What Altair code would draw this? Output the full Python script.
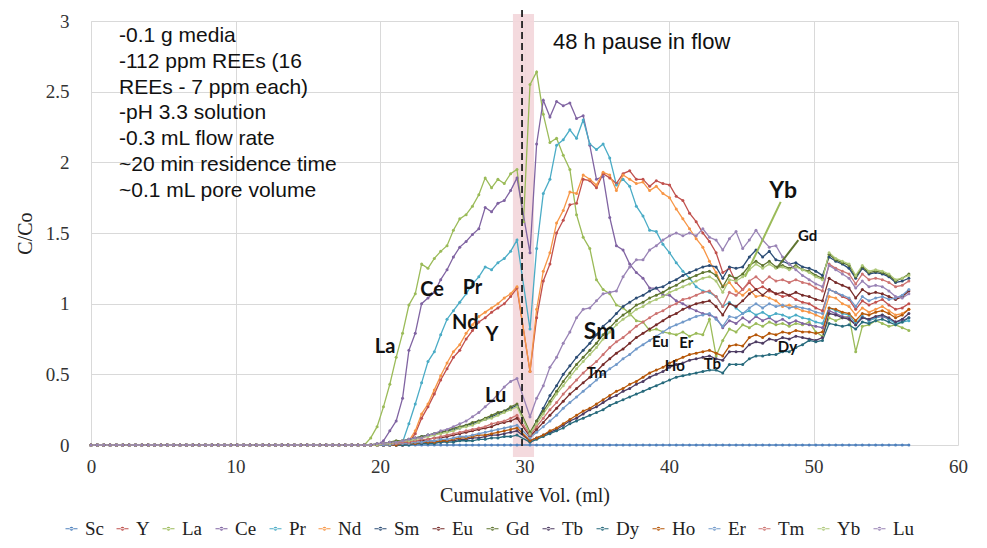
import altair as alt
import pandas as pd

NAMES = ["Sc", "Y", "La", "Ce", "Pr", "Nd", "Sm", "Eu", "Gd", "Tb", "Dy", "Ho", "Er", "Tm", "Yb", "Lu"]
COLORS = ["#4F81BD", "#C0504D", "#9BBB59", "#8064A2", "#4BACC6", "#F79646", "#2C4D75", "#772C2A",
          "#5F7530", "#4D3B62", "#276A7C", "#B65708", "#729ACA", "#CD7371", "#AFC97A", "#9983B5"]

# cumulative volume (ml) before the 48 h pause
X_PRE = [0.0, 0.44, 0.88, 1.32, 1.76, 2.2, 2.64, 3.08, 3.52, 3.96,
         4.4, 4.84, 5.28, 5.72, 6.16, 6.6, 7.04, 7.48, 7.92, 8.36,
         8.8, 9.24, 9.68, 10.12, 10.56, 11.0, 11.44, 11.88, 12.32, 12.76,
         13.2, 13.64, 14.08, 14.52, 14.96, 15.4, 15.84, 16.28, 16.72, 17.16,
         17.6, 18.04, 18.48, 18.92, 19.36, 19.8, 20.24, 20.68, 21.12, 21.56,
         22.0, 22.44, 22.88, 23.32, 23.76, 24.2, 24.64, 25.08, 25.52, 25.96,
         26.4, 26.84, 27.28, 27.72, 28.16, 28.6, 29.04, 29.48]
# cumulative volume (ml) after the pause
X_POST = [30.38, 30.84, 31.3, 31.76, 32.22, 32.68, 33.14, 33.6, 34.06, 34.52,
          34.98, 35.44, 35.9, 36.36, 36.82, 37.28, 37.74, 38.2, 38.66, 39.12,
          39.58, 40.04, 40.5, 40.96, 41.42, 41.88, 42.34, 42.8, 43.26, 43.72,
          44.18, 44.64, 45.1, 45.56, 46.02, 46.48, 46.94, 47.4, 47.86, 48.32,
          48.78, 49.24, 49.7, 50.16, 50.62, 51.08, 51.54, 52.0, 52.46, 52.92,
          53.38, 53.84, 54.3, 54.76, 55.22, 55.68, 56.14, 56.6]

# C/Co before the pause: last readings (earlier readings are 0)
PRE = {
    "Sc": [],
    "La": [0, 0.05, 0.13, 0.27, 0.43, 0.62, 0.79, 0.99, 1.07, 1.28, 1.25, 1.32, 1.37, 1.41, 1.52, 1.60,
           1.63, 1.69, 1.77, 1.89, 1.82, 1.88, 1.85, 1.92, 1.95],
    "Ce": [0, 0.03, 0.10, 0.17, 0.33, 0.67, 0.79, 1.00, 1.04, 1.08, 1.17, 1.24, 1.33, 1.40, 1.44, 1.49,
           1.53, 1.68, 1.65, 1.71, 1.73, 1.80, 1.89],
    "Pr": [0, 0.02, 0.15, 0.29, 0.44, 0.59, 0.66, 0.78, 0.89, 0.95, 1.01, 1.07, 1.14, 1.19, 1.26, 1.24,
           1.29, 1.32, 1.37, 1.45],
    "Nd": [0, 0.03, 0.10, 0.22, 0.29, 0.39, 0.49, 0.58, 0.66, 0.71, 0.79, 0.85, 0.91, 0.94, 0.97, 1.00,
           1.04, 1.07, 1.12],
    "Y": [0, 0.02, 0.08, 0.19, 0.27, 0.36, 0.46, 0.54, 0.62, 0.67, 0.75, 0.81, 0.87, 0.90, 0.94, 0.97,
          1.00, 1.05, 1.11],
    "Lu": [0.0, 0.01, 0.01, 0.02, 0.02, 0.03, 0.04, 0.05, 0.05, 0.07, 0.08, 0.10, 0.11, 0.13, 0.15, 0.17,
           0.20, 0.23, 0.27, 0.31, 0.36, 0.41, 0.45, 0.47],
    "Gd": [0.0, 0.01, 0.01, 0.02, 0.03, 0.03, 0.04, 0.05, 0.06, 0.07, 0.08, 0.09, 0.10, 0.12, 0.13, 0.14,
           0.16, 0.17, 0.19, 0.21, 0.23, 0.24, 0.27, 0.29],
    "Sm": [0.0, 0.0, 0.01, 0.02, 0.02, 0.03, 0.04, 0.05, 0.06, 0.07, 0.08, 0.09, 0.10, 0.11, 0.12, 0.14,
           0.15, 0.17, 0.18, 0.20, 0.22, 0.24, 0.26, 0.28],
    "Yb": [0.0, 0.0, 0.01, 0.01, 0.02, 0.03, 0.03, 0.04, 0.05, 0.06, 0.07, 0.08, 0.09, 0.10, 0.12, 0.13,
           0.14, 0.16, 0.18, 0.19, 0.21, 0.23, 0.25, 0.27],
    "Tm": [0, 0, 0.01, 0.01, 0.01, 0.02, 0.02, 0.03, 0.04, 0.04, 0.05, 0.06, 0.07, 0.08, 0.09, 0.10,
           0.11, 0.12, 0.13, 0.15, 0.16, 0.17, 0.19, 0.21],
    "Eu": [0, 0, 0, 0.01, 0.01, 0.02, 0.02, 0.03, 0.03, 0.04, 0.05, 0.05, 0.06, 0.07, 0.08, 0.09,
           0.10, 0.11, 0.12, 0.13, 0.15, 0.16, 0.17, 0.19],
    "Er": [0, 0, 0, 0, 0.01, 0.01, 0.01, 0.02, 0.02, 0.03, 0.03, 0.04, 0.04, 0.05, 0.06, 0.06,
           0.07, 0.08, 0.09, 0.10, 0.11, 0.12, 0.13, 0.14],
    "Ho": [0, 0, 0, 0, 0, 0.01, 0.01, 0.01, 0.02, 0.02, 0.02, 0.03, 0.03, 0.04, 0.05, 0.05,
           0.06, 0.07, 0.07, 0.08, 0.09, 0.10, 0.11, 0.12],
    "Tb": [0, 0, 0, 0, 0, 0, 0.01, 0.01, 0.01, 0.02, 0.02, 0.02, 0.03, 0.03, 0.04, 0.04,
           0.05, 0.05, 0.06, 0.07, 0.07, 0.08, 0.09, 0.10],
    "Dy": [0, 0, 0, 0, 0, 0, 0, 0.01, 0.01, 0.01, 0.01, 0.02, 0.02, 0.02, 0.03, 0.03,
           0.03, 0.04, 0.04, 0.05, 0.05, 0.06, 0.06, 0.07],
}

# La has one extra reading taken right at the pause: [volume, C/Co]
LA_PAUSE = [29.93, 1.58]

# C/Co after the pause
POST = {
    "Sc": [0.0] * 58,
    "La": [2.55, 2.64, 2.34, 2.14, 2.17, 2.05, 1.95, 1.63, 1.47, 1.39, 1.17, 1.10, 1.07, 0.99, 0.97, 0.93,
           0.88, 0.87, 0.81, 0.82, 0.80, 0.79, 0.78, 0.80, 0.77, 0.79, 0.78, 0.89, 0.63, 0.74, 0.82, 0.80,
           0.85, 0.83, 0.86, 0.84, 0.87, 0.85, 0.86, 0.84, 0.86, 0.85, 0.87, 0.80, 0.77, 0.90, 0.88, 0.90,
           0.91, 0.66, 0.84, 0.85, 0.88, 0.86, 0.84, 0.85, 0.83, 0.81],
    "Ce": [1.36, 2.13, 2.44, 2.32, 2.43, 2.40, 2.42, 2.31, 2.33, 2.12, 1.88, 1.90, 1.61, 1.41, 1.38, 1.28,
           1.22, 1.18, 1.11, 1.11, 1.06, 1.06, 1.02, 1.00, 0.97, 0.95, 0.93, 0.92, 0.90, 0.83, 0.88, 0.86,
           0.90, 0.87, 0.91, 0.88, 0.90, 0.87, 0.89, 0.86, 0.88, 0.86, 0.85, 0.84, 0.83, 0.95, 0.93, 0.91,
           0.90, 0.85, 0.91, 0.88, 0.90, 0.91, 0.89, 0.87, 0.88, 0.90],
    "Pr": [0.82, 1.39, 1.78, 1.88, 2.12, 2.16, 2.23, 2.17, 2.30, 2.13, 2.09, 2.13, 2.03, 1.84, 1.88, 1.83,
           1.69, 1.62, 1.52, 1.51, 1.42, 1.36, 1.29, 1.23, 1.18, 1.12, 1.09, 1.08, 1.05, 0.98, 1.01, 0.97,
           0.93, 0.95, 0.92, 0.94, 0.91, 0.93, 0.92, 0.90, 0.92, 0.90, 0.89, 0.87, 0.86, 0.97, 0.95, 0.93,
           0.92, 0.86, 0.91, 0.88, 0.90, 0.92, 0.89, 0.86, 0.87, 0.88],
    "Nd": [0.52, 0.96, 1.23, 1.36, 1.57, 1.66, 1.79, 1.78, 1.91, 1.88, 1.84, 1.93, 1.91, 1.80, 1.91, 1.88,
           1.85, 1.86, 1.80, 1.83, 1.78, 1.75, 1.67, 1.60, 1.53, 1.46, 1.40, 1.30, 1.22, 1.12, 1.15, 1.09,
           1.06, 1.10, 1.05, 1.06, 1.04, 1.02, 0.98, 0.99, 0.97, 0.95, 0.94, 0.92, 0.90, 1.05, 1.04, 1.00,
           0.98, 0.92, 0.97, 0.94, 0.96, 0.98, 0.95, 0.92, 0.93, 0.96],
    "Y": [0.52, 0.90, 1.16, 1.28, 1.50, 1.59, 1.70, 1.71, 1.88, 1.87, 1.82, 1.92, 1.89, 1.85, 1.92, 1.94,
          1.88, 1.88, 1.83, 1.87, 1.85, 1.84, 1.76, 1.73, 1.64, 1.58, 1.50, 1.44, 1.36, 1.22, 1.25, 1.15,
          1.10, 1.15, 1.10, 1.12, 1.09, 1.07, 1.05, 1.06, 1.03, 1.01, 1.00, 0.97, 0.95, 1.10, 1.08, 1.05,
          1.03, 0.96, 1.02, 0.99, 1.01, 1.03, 0.99, 0.96, 0.97, 1.00],
    "Sm": [0.08, 0.17, 0.26, 0.35, 0.42, 0.50, 0.56, 0.62, 0.67, 0.72, 0.78, 0.84, 0.88, 0.93, 0.98, 1.01,
           1.04, 1.06, 1.09, 1.11, 1.12, 1.15, 1.17, 1.20, 1.22, 1.24, 1.26, 1.27, 1.26, 1.18, 1.26, 1.25,
           1.26, 1.33, 1.38, 1.33, 1.37, 1.31, 1.30, 1.28, 1.29, 1.26, 1.25, 1.23, 1.20, 1.33, 1.30, 1.28,
           1.25, 1.18, 1.25, 1.21, 1.22, 1.21, 1.19, 1.15, 1.16, 1.18],
    "Gd": [0.09, 0.17, 0.24, 0.31, 0.38, 0.45, 0.51, 0.57, 0.62, 0.67, 0.72, 0.78, 0.83, 0.88, 0.92, 0.95,
           0.99, 1.01, 1.04, 1.06, 1.08, 1.11, 1.13, 1.16, 1.18, 1.20, 1.22, 1.23, 1.20, 1.12, 1.20, 1.18,
           1.21, 1.27, 1.30, 1.27, 1.30, 1.26, 1.27, 1.25, 1.27, 1.24, 1.23, 1.20, 1.18, 1.35, 1.31, 1.29,
           1.27, 1.19, 1.26, 1.22, 1.23, 1.22, 1.20, 1.16, 1.18, 1.21],
    "Yb": [0.08, 0.15, 0.22, 0.29, 0.36, 0.42, 0.48, 0.54, 0.59, 0.64, 0.69, 0.75, 0.80, 0.85, 0.89, 0.92,
           0.96, 0.98, 1.01, 1.03, 1.05, 1.08, 1.10, 1.12, 1.14, 1.16, 1.18, 1.19, 1.16, 1.08, 1.17, 1.16,
           1.19, 1.24, 1.28, 1.25, 1.28, 1.25, 1.26, 1.24, 1.26, 1.24, 1.22, 1.19, 1.17, 1.36, 1.32, 1.30,
           1.28, 1.20, 1.27, 1.23, 1.24, 1.23, 1.21, 1.17, 1.18, 1.20],
    "Tm": [0.07, 0.13, 0.19, 0.25, 0.30, 0.36, 0.41, 0.46, 0.51, 0.55, 0.59, 0.64, 0.69, 0.73, 0.76, 0.80,
           0.84, 0.87, 0.90, 0.93, 0.95, 0.98, 1.00, 1.03, 1.04, 1.06, 1.08, 1.09, 1.05, 0.98, 1.08, 1.06,
           1.10, 1.16, 1.19, 1.15, 1.19, 1.16, 1.17, 1.15, 1.17, 1.15, 1.14, 1.11, 1.09, 1.28, 1.25, 1.23,
           1.21, 1.14, 1.21, 1.17, 1.18, 1.17, 1.15, 1.12, 1.13, 1.16],
    "Eu": [0.06, 0.11, 0.16, 0.21, 0.26, 0.31, 0.36, 0.40, 0.44, 0.48, 0.52, 0.57, 0.61, 0.65, 0.68, 0.72,
           0.76, 0.79, 0.82, 0.85, 0.88, 0.91, 0.93, 0.96, 0.98, 1.00, 1.01, 1.02, 0.98, 0.92, 1.00, 0.98,
           1.02, 1.07, 1.10, 1.06, 1.10, 1.07, 1.08, 1.06, 1.08, 1.06, 1.05, 1.03, 1.02, 1.18, 1.15, 1.13,
           1.11, 1.04, 1.10, 1.07, 1.08, 1.07, 1.05, 1.03, 1.05, 1.09],
    "Er": [0.05, 0.09, 0.13, 0.17, 0.21, 0.26, 0.30, 0.34, 0.38, 0.42, 0.46, 0.50, 0.54, 0.57, 0.61, 0.64,
           0.68, 0.71, 0.74, 0.77, 0.80, 0.83, 0.85, 0.87, 0.89, 0.91, 0.92, 0.93, 0.89, 0.84, 0.91, 0.90,
           0.93, 0.97, 1.00, 0.97, 1.00, 0.98, 0.99, 0.97, 0.98, 0.97, 0.96, 0.94, 0.93, 1.10, 1.08, 1.06,
           1.04, 0.98, 1.05, 1.02, 1.04, 1.05, 1.03, 1.04, 1.06, 1.10],
    "Ho": [0.03, 0.05, 0.07, 0.10, 0.12, 0.15, 0.18, 0.21, 0.24, 0.26, 0.29, 0.32, 0.35, 0.38, 0.40, 0.43,
           0.45, 0.48, 0.51, 0.53, 0.55, 0.58, 0.60, 0.62, 0.64, 0.65, 0.66, 0.67, 0.65, 0.63, 0.70, 0.71,
           0.70, 0.76, 0.78, 0.76, 0.79, 0.78, 0.80, 0.79, 0.81, 0.80, 0.80, 0.79, 0.80, 0.97, 0.96, 0.94,
           0.93, 0.88, 0.93, 0.92, 0.94, 0.95, 0.93, 0.90, 0.92, 0.96],
    "Tb": [0.03, 0.05, 0.07, 0.09, 0.11, 0.14, 0.17, 0.19, 0.22, 0.25, 0.27, 0.30, 0.33, 0.35, 0.38, 0.40,
           0.43, 0.45, 0.48, 0.50, 0.52, 0.55, 0.57, 0.58, 0.60, 0.61, 0.62, 0.63, 0.61, 0.60, 0.66, 0.66,
           0.66, 0.71, 0.73, 0.72, 0.75, 0.74, 0.76, 0.75, 0.77, 0.76, 0.75, 0.74, 0.76, 0.93, 0.92, 0.90,
           0.89, 0.85, 0.90, 0.89, 0.91, 0.92, 0.90, 0.87, 0.89, 0.93],
    "Dy": [0.02, 0.04, 0.06, 0.08, 0.10, 0.12, 0.15, 0.17, 0.19, 0.21, 0.23, 0.25, 0.28, 0.30, 0.32, 0.34,
           0.36, 0.38, 0.40, 0.42, 0.44, 0.46, 0.48, 0.49, 0.50, 0.51, 0.52, 0.53, 0.53, 0.51, 0.57, 0.57,
           0.57, 0.61, 0.63, 0.63, 0.64, 0.64, 0.66, 0.66, 0.69, 0.71, 0.74, 0.73, 0.74, 0.86, 0.85, 0.84,
           0.85, 0.82, 0.87, 0.86, 0.88, 0.89, 0.87, 0.85, 0.87, 0.90],
    "Lu": [0.20, 0.33, 0.42, 0.55, 0.62, 0.72, 0.80, 0.90, 0.96, 0.97, 1.02, 1.07, 1.08, 1.09, 1.19, 1.26,
           1.31, 1.31, 1.38, 1.41, 1.45, 1.48, 1.50, 1.48, 1.50, 1.48, 1.53, 1.47, 1.45, 1.38, 1.46, 1.51,
           1.39, 1.45, 1.52, 1.45, 1.40, 1.41, 1.33, 1.28, 1.24, 1.20, 1.17, 1.14, 1.12, 1.27, 1.24, 1.21,
           1.18, 1.11, 1.16, 1.12, 1.13, 1.12, 1.09, 1.05, 1.04, 1.07],
}

NOTES = ["-0.1 g media", "-112 ppm REEs (16", "REEs - 7 ppm each)", "-pH 3.3 solution",
         "-0.3 mL flow rate", "~20 min residence time", "~0.1 mL pore volume"]

LABELS = ["La", "Ce", "Pr", "Nd", "Y", "Lu", "Sm", "Tm", "Eu", "Er", "Ho", "Tb", "Dy", "Yb", "Gd"]
LABEL_X = [20.35, 23.6, 26.4, 25.9, 27.75, 28.0, 35.2, 35.0, 39.4, 41.2, 40.4, 43.0, 48.2, 47.9, 49.6]
LABEL_Y = [0.69, 1.10, 1.11, 0.86, 0.78, 0.35, 0.80, 0.51, 0.73, 0.72, 0.56, 0.57, 0.69, 1.80, 1.48]
LABEL_SIZE = [20, 20, 20, 20, 20, 20, 23, 15, 15, 15, 15, 15, 15, 23, 15]

rows = []
for name in NAMES:
    pre = [0.0] * (len(X_PRE) - len(PRE[name])) + PRE[name]
    xs = list(X_PRE)
    ys = list(pre)
    if name == "La":
        xs.append(LA_PAUSE[0])
        ys.append(LA_PAUSE[1])
    xs += X_POST
    ys += POST[name]
    assert len(ys) == len(xs), name
    for k, (xv, yv) in enumerate(zip(xs, ys)):
        rows.append({"series": name, "x": xv, "y": yv, "k": k})
df = pd.DataFrame(rows)

xscale = alt.Scale(domain=[0, 60], nice=False, zero=False)
yscale = alt.Scale(domain=[0, 3], nice=False)
cscale = alt.Scale(domain=NAMES, range=COLORS)

xaxis = alt.Axis(values=[0, 10, 20, 30, 40, 50, 60], title="Cumulative Vol. (ml)", grid=True,
                 gridColor="#D9D9D9", domain=False, ticks=False, labelFlush=False,
                 labelFont="Liberation Serif", labelFontSize=19, labelColor="#333", labelPadding=12,
                 titleFont="Liberation Serif", titleFontSize=20, titleFontWeight="normal",
                 titleColor="#222", titlePadding=9)
yaxis = alt.Axis(values=[0, 0.5, 1, 1.5, 2, 2.5, 3], format="~g", title="C/Co", grid=True,
                 gridColor="#D9D9D9", domain=True, domainColor="#D9D9D9", ticks=False, labelFlush=False,
                 labelFont="Liberation Serif", labelFontSize=19, labelColor="#333", labelPadding=22,
                 titleFont="Liberation Serif", titleFontSize=20, titleFontWeight="normal",
                 titleColor="#222", titlePadding=10)

band = alt.Chart(pd.DataFrame({"a": [29.2], "b": [30.66]})).mark_rect(color="#F3D6DA", opacity=0.9).encode(
    x=alt.X("a:Q", scale=xscale, axis=xaxis), x2="b:Q", y=alt.value(-7), y2=alt.value(436))

base = alt.Chart(df)
lines = base.mark_line(strokeWidth=1.3).encode(
    x=alt.X("x:Q", scale=xscale, axis=xaxis),
    y=alt.Y("y:Q", scale=yscale, axis=yaxis),
    color=alt.Color("series:N", scale=cscale, legend=None),
    detail="series:N", order="k:Q")

SYMBOL = "M-1,-0.09L1,-0.09L1,0.09L-1,0.09Z M-0.32,0 A0.32,0.32 0 1,0 0.32,0 A0.32,0.32 0 1,0 -0.32,0 Z"
points = base.mark_point(filled=True, size=9, opacity=1).encode(
    x=alt.X("x:Q", scale=xscale),
    y=alt.Y("y:Q", scale=yscale),
    color=alt.Color("series:N", scale=cscale, legend=alt.Legend(
        orient="none", legendX=-29, legendY=498, direction="horizontal", columns=16, title=None,
        gridAlign="each", symbolType=SYMBOL, symbolSize=144, symbolStrokeWidth=0,
        labelFont="Liberation Serif", labelFontSize=19, labelColor="#222", columnPadding=9,
        labelOffset=4)))

pause = alt.Chart(pd.DataFrame({"p": [29.83]})).mark_rule(color="#222", strokeDash=[7, 4], strokeWidth=1.8).encode(
    x=alt.X("p:Q", scale=xscale), y=alt.value(-11), y2=alt.value(429))

notes = alt.Chart(pd.DataFrame({"t": ["\n".join(NOTES)]})).mark_text(
    align="left", baseline="top", font="Liberation Sans", fontSize=21, lineHeight=25.8,
    lineBreak="\n", color="#111").encode(x=alt.value(28), y=alt.value(4), text="t:N")

pause_txt = alt.Chart(pd.DataFrame({"t": ["48 h pause in flow"]})).mark_text(
    align="left", baseline="middle", font="Liberation Sans", fontSize=22, color="#111").encode(
    x=alt.value(462), y=alt.value(21), text="t:N")

lab_df = pd.DataFrame({"t": LABELS, "x": LABEL_X, "y": LABEL_Y, "s": LABEL_SIZE})
labels = alt.Chart(lab_df).mark_text(font="Lato", fontWeight="bold", color="#111").encode(
    x=alt.X("x:Q", scale=xscale), y=alt.Y("y:Q", scale=yscale), text="t:N",
    size=alt.Size("s:Q", scale=None, legend=None))

lead_df = pd.DataFrame({"x": [47.73, 48.95], "y": [1.72, 1.45], "x2": [45.26, 47.45], "y2": [1.19, 1.25],
                        "c": ["#9BBB59", "#5F7530"]})
leaders = alt.Chart(lead_df).mark_rule(strokeWidth=2).encode(
    x=alt.X("x:Q", scale=xscale), y=alt.Y("y:Q", scale=yscale), x2="x2:Q", y2="y2:Q",
    color=alt.Color("c:N", scale=None, legend=None))

chart = alt.layer(band, lines, points, pause, leaders, notes, pause_txt, labels).resolve_scale(
    color="independent"
).properties(
    width=867, height=424,
    autosize=alt.AutoSizeParams(type="none"),
    padding={"left": 83, "top": 13, "right": 15, "bottom": 95},
).configure_view(stroke=None)

chart.save("out.html", embed_options={"renderer": "svg", "actions": False})
